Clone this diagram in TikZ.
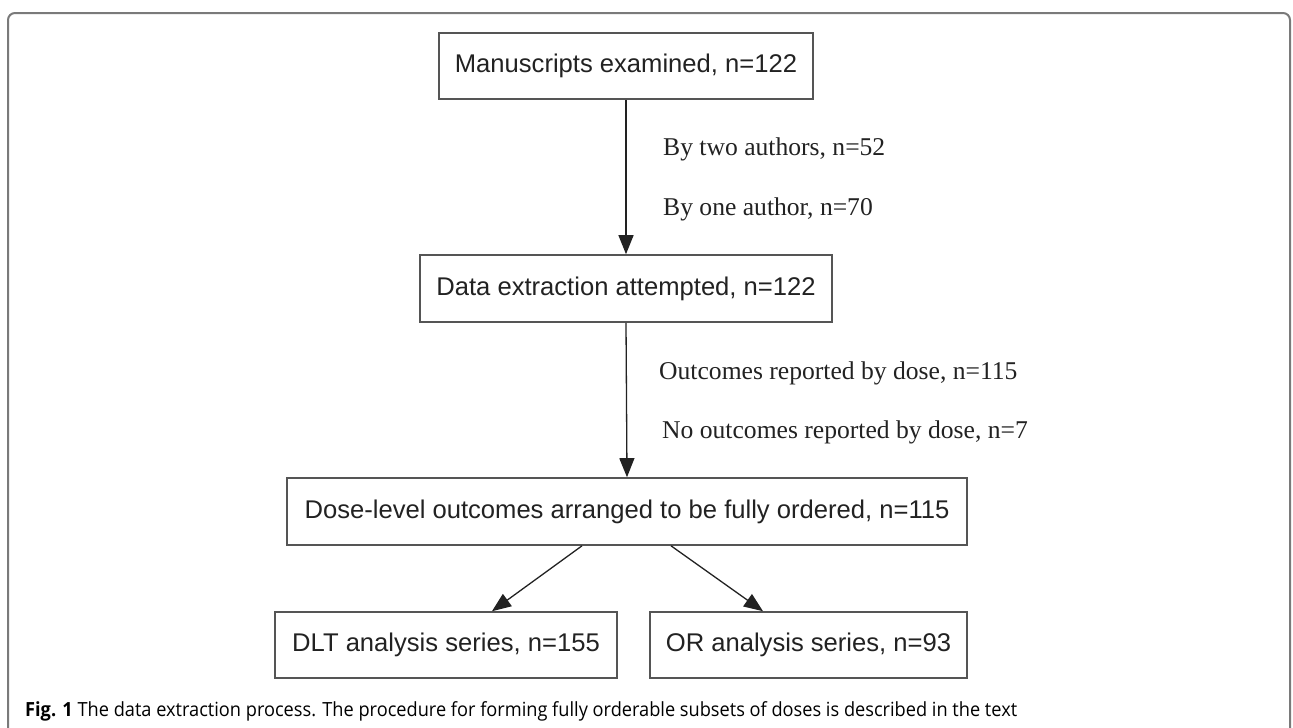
\documentclass[tikz,border=0pt]{standalone}
\usepackage{fontspec}
\usepackage{graphicx}
\setmainfont{Liberation Serif}
\newfontfamily\boxfont{Liberation Sans}
\newfontfamily\capfont{Open Sans}
\usetikzlibrary{arrows.meta}
\newsavebox\capbox
\definecolor{boxline}{HTML}{555555}
\definecolor{txt}{HTML}{222222}
\definecolor{frame}{HTML}{7A7A7A}
\tikzset{
  flowbox/.style={draw=boxline, line width=1.6pt, fill=white, text=txt,
    inner sep=0pt, font=\boxfont\fontsize{25.6pt}{30pt}\selectfont},
  flowarrow/.style={draw=txt, line width=1.3pt,
    -{Triangle[length=19pt,width=15pt]}},
  lbl/.style={anchor=base west, inner sep=0pt, text=txt,
    font=\fontsize{25.6pt}{30pt}\selectfont},
}
\begin{document}
\begin{tikzpicture}[x=1pt,y=-1pt]
\useasboundingbox (0,0) rectangle (1293,728);
\draw[frame, line width=2pt, rounded corners=7pt] (8,760) -- (8,13) -- (1290,13) -- (1290,760);

\node[flowbox, minimum width=374pt, minimum height=66pt] (b1) at (626,66) {Manuscripts examined, n=122};
\node[flowbox, minimum width=412pt, minimum height=67pt] (b2) at (626,288.5) {Data extraction attempted, n=122};
\node[flowbox, minimum width=680pt, minimum height=67pt] (b3) at (627,511.5) {Dose-level outcomes arranged to be fully ordered, n=115};
\node[flowbox, minimum width=342pt, minimum height=66pt] (b4) at (446,645) {DLT analysis series, n=155};
\node[flowbox, minimum width=317pt, minimum height=66pt] (b5) at (808.5,645) {OR analysis series, n=93};

\draw[flowarrow] (b1.south) -- (b2.north);
\draw[flowarrow] (b2.south) -- (b3.north);
\draw[flowarrow] ([xshift=-45pt]b3.south) -- ([xshift=46pt]b4.north);
\draw[flowarrow] ([xshift=44pt]b3.south) -- ([xshift=-45.5pt]b5.north);

\node[lbl] (l1) at (663,155) {By two authors, n=52};
\node[lbl] (l2) at (663,215) {By one author, n=70};
\node[lbl] (l3) at (659,379) {Outcomes reported by dose, n=115};
\node[lbl] (l4) at (662,438) {No outcomes reported by dose, n=7};

\node[anchor=base west, inner sep=0pt] (cap) at (25,716) {\sbox\capbox{\capfont\fontsize{19.5pt}{23pt}\selectfont\textbf{Fig. 1} The data extraction process. The procedure for forming fully orderable subsets of doses is described in the text}\resizebox{992pt}{\ht\capbox}{\usebox\capbox}};
\end{tikzpicture}
\end{document}
